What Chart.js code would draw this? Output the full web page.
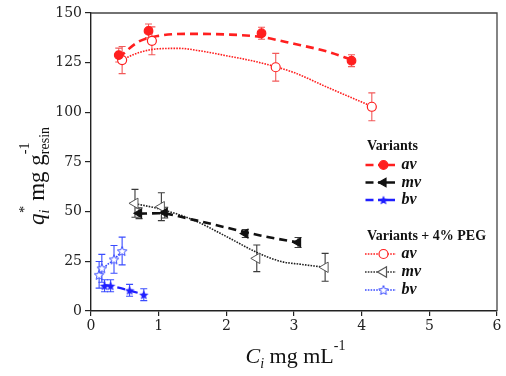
<!DOCTYPE html>
<html>
<head>
<meta charset="utf-8">
<script src="https://cdn.jsdelivr.net/npm/chart.js@4/dist/chart.umd.min.js"></script>
<style>
  html, body { margin: 0; padding: 0; background: #fff; }
  canvas { display: block; }
</style>
</head>
<body>
<canvas id="chart" width="506" height="376"></canvas>
<script>
// Measured uptake q* (mg/g resin) against concentration C (mg/mL), with error
const avX = [0.41, 0.85, 2.52, 3.85];
const avY = [128.8, 141.0, 139.8, 126.0];
const avErr = [3.5, 3.5, 3.0, 3.0];

const mvX = [0.71, 1.09, 2.28, 3.06];
const mvY = [49.2, 49.5, 39.0, 34.5];
const mvErr = [2.7, 2.7, 2.0, 2.5];

const bvX = [0.20, 0.29, 0.57, 0.78];
const bvY = [12.7, 12.7, 10.4, 8.2];
const bvErr = [3.0, 3.0, 3.0, 3.0];

// Same variants with 4% PEG
const avPegX = [0.46, 0.90, 2.73, 4.15];
const avPegY = [126.3, 136.0, 122.7, 102.8];
const avPegErr = [6.8, 7.0, 7.0, 7.0];

const mvPegX = [0.65, 1.04, 2.45, 3.46];
const mvPegY = [54.2, 52.5, 26.5, 22.0];
const mvPegErr = [7.0, 7.0, 6.7, 7.0];

const bvPegX = [0.12, 0.16, 0.34, 0.46];
const bvPegY = [18.2, 21.5, 26.0, 30.2];
const bvPegErr = [6.7, 7.0, 7.0, 7.0];

// Fitted isotherm curves
const avFitX = [0.41, 0.70, 1.00, 1.50, 2.00, 2.50, 3.00, 3.50, 3.85];
const avFitY = [127.5, 135.5, 138.5, 139.5, 139.2, 138.0, 134.5, 130.5, 126.5];
const avPegFitX = [0.46, 0.70, 1.00, 1.30, 1.60, 2.00, 2.50, 3.00, 3.50, 4.15];
const avPegFitY = [126.5, 130.0, 132.0, 132.2, 131.0, 128.5, 125.0, 120.0, 112.5, 103.0];
const mvFitX = [0.71, 1.00, 1.50, 2.00, 2.50, 3.06];
const mvFitY = [49.0, 49.2, 46.0, 42.0, 38.0, 34.5];
const mvPegFitX = [0.65, 1.00, 1.50, 2.00, 2.45, 2.80, 3.10, 3.46];
const mvPegFitY = [54.0, 51.5, 46.0, 37.5, 29.5, 25.0, 23.5, 22.0];
const bvFitX = [0.20, 0.29, 0.57, 0.78];
const bvFitY = [13.0, 12.6, 10.3, 8.3];
const bvPegFitX = [0.12, 0.16, 0.34, 0.46];
const bvPegFitY = [18.0, 20.5, 26.0, 30.2];

// Axis ticks
const xTicks = [0, 1, 2, 3, 4, 5, 6];
const yTicks = [0, 25, 50, 75, 100, 125, 150];

const RED = '#ff1f1f';
const RED_ERR = '#f25a5a';
const BLACK = '#111111';
const BLACK_ERR = '#3a3a3a';
const BLUE = '#1f1fff';
const BLUE_ERR = '#3a4cff';

const pts = (xs, ys) => xs.map((x, i) => ({ x, y: ys[i] }));

function makeStar(size, color, filled) {
  const c = document.createElement('canvas');
  c.width = size; c.height = size;
  const g = c.getContext('2d');
  const cx = size / 2, cy = size / 2 + 0.5;
  const ro = size / 2 - 1, ri = ro * 0.45;
  g.beginPath();
  for (let k = 0; k < 10; k++) {
    const r = k % 2 ? ri : ro;
    const a = -Math.PI / 2 + k * Math.PI / 5;
    const px = cx + r * Math.cos(a), py = cy + r * Math.sin(a);
    k ? g.lineTo(px, py) : g.moveTo(px, py);
  }
  g.closePath();
  if (filled) {
    g.fillStyle = color; g.fill();
  } else {
    g.fillStyle = '#fff'; g.fill();
    g.strokeStyle = color; g.lineWidth = 1; g.stroke();
  }
  return c;
}
const starFilled = makeStar(12, BLUE, true);
const starOpen = makeStar(12, BLUE_ERR, false);

const DASH = [8, 5];
const DOT = [1.6, 1.2];

function fitLine(xs, ys, color, dash, width) {
  return {
    data: pts(xs, ys), showLine: true, borderColor: color, borderWidth: width,
    borderDash: dash, pointRadius: 0, fill: false,
    cubicInterpolationMode: 'monotone', order: 2
  };
}
function markers(xs, ys, errs, opts) {
  return Object.assign({
    data: pts(xs, ys), showLine: false, errors: errs, order: 0,
    pointBorderWidth: 1.2, pointHoverRadius: 0
  }, opts);
}

const datasets = [
  fitLine(avFitX, avFitY, RED, DASH, 2.6),
  fitLine(avPegFitX, avPegFitY, RED, DOT, 1.6),
  fitLine(mvFitX, mvFitY, BLACK, DASH, 2.6),
  fitLine(mvPegFitX, mvPegFitY, '#222', DOT, 1.6),
  fitLine(bvFitX, bvFitY, BLUE, DASH, 2.2),
  fitLine(bvPegFitX, bvPegFitY, BLUE_ERR, DOT, 1.6),
  markers(avX, avY, avErr, { pointStyle: 'circle', pointRadius: 4.3, pointBackgroundColor: RED, pointBorderColor: RED, errColor: RED_ERR }),
  markers(avPegX, avPegY, avPegErr, { pointStyle: 'circle', pointRadius: 4.5, pointBackgroundColor: '#fff', pointBorderColor: RED, errColor: RED_ERR }),
  markers(mvX, mvY, mvErr, { pointStyle: 'triangle', pointRotation: 270, pointRadius: 5, pointBackgroundColor: BLACK, pointBorderColor: BLACK, errColor: BLACK_ERR }),
  markers(mvPegX, mvPegY, mvPegErr, { pointStyle: 'triangle', pointRotation: 270, pointRadius: 6, pointBackgroundColor: '#fff', pointBorderColor: '#555', pointBorderWidth: 1, errColor: BLACK_ERR }),
  markers(bvX, bvY, bvErr, { pointStyle: starFilled, errColor: BLUE_ERR }),
  markers(bvPegX, bvPegY, bvPegErr, { pointStyle: starOpen, errColor: BLUE_ERR })
];

// Vertical error bars with caps, drawn under the markers
const errorBars = {
  id: 'errorBars',
  beforeDatasetsDraw(chart) {
    const { ctx, scales: { x, y } } = chart;
    ctx.save();
    chart.data.datasets.forEach(ds => {
      if (!ds.errors) return;
      ctx.strokeStyle = ds.errColor; ctx.lineWidth = 1.1;
      ds.data.forEach((p, i) => {
        const px = x.getPixelForValue(p.x);
        const top = y.getPixelForValue(p.y + ds.errors[i]);
        const bot = y.getPixelForValue(p.y - ds.errors[i]);
        ctx.beginPath();
        ctx.moveTo(px, top); ctx.lineTo(px, bot);
        ctx.moveTo(px - 3.5, top); ctx.lineTo(px + 3.5, top);
        ctx.moveTo(px - 3.5, bot); ctx.lineTo(px + 3.5, bot);
        ctx.stroke();
      });
    });
    ctx.restore();
  }
};

// Frame, axis titles and grouped legend
const SERIF = '"Liberation Serif", "Times New Roman", serif';
function drawRich(ctx, parts, u0, supOff, subOff) {
  let u = u0;
  parts.forEach(p => {
    if (p.stack) {
      ctx.font = p.stack.font;
      const w1 = ctx.measureText(p.stack.sub).width;
      const w2 = ctx.measureText(p.stack.sup).width;
      ctx.fillText(p.stack.sub, u, subOff);
      ctx.fillText(p.stack.sup, u, supOff);
      u += Math.max(w1, w2);
    } else {
      ctx.font = p.font;
      ctx.fillText(p.t, u, p.sup ? supOff : 0);
      u += ctx.measureText(p.t).width;
    }
  });
}
function richWidth(ctx, parts) {
  let w = 0;
  parts.forEach(p => {
    if (p.stack) {
      ctx.font = p.stack.font;
      w += Math.max(ctx.measureText(p.stack.sub).width, ctx.measureText(p.stack.sup).width);
    } else {
      ctx.font = p.font;
      w += ctx.measureText(p.t).width;
    }
  });
  return w;
}

const legendGroups = [
  { title: 'Variants', titleY: 146, rows: [
    { y: 165, label: 'av', color: RED, dash: 'dash', marker: { pointStyle: 'circle', radius: 4.3, fill: RED, stroke: RED } },
    { y: 182.5, label: 'mv', color: BLACK, dash: 'dash', marker: { pointStyle: 'triangle', rotation: 270, radius: 5, fill: BLACK, stroke: BLACK } },
    { y: 200, label: 'bv', color: BLUE, dash: 'dash', marker: { pointStyle: starFilled } }
  ]},
  { title: 'Variants + 4% PEG', titleY: 236.5, rows: [
    { y: 254, label: 'av', color: RED, dash: 'dot', marker: { pointStyle: 'circle', radius: 4.5, fill: '#fff', stroke: RED } },
    { y: 272, label: 'mv', color: '#333', dash: 'dot', marker: { pointStyle: 'triangle', rotation: 270, radius: 6, fill: '#fff', stroke: '#555' } },
    { y: 290, label: 'bv', color: BLUE_ERR, dash: 'dot', marker: { pointStyle: starOpen } }
  ]}
];

const decorations = {
  id: 'decorations',
  afterDraw(chart) {
    const { ctx, chartArea: a } = chart;
    ctx.save();
    // top and right frame lines
    ctx.strokeStyle = '#444'; ctx.lineWidth = 1.3;
    ctx.beginPath();
    ctx.moveTo(a.left, a.top); ctx.lineTo(a.right, a.top); ctx.lineTo(a.right, a.bottom);
    ctx.stroke();

    ctx.fillStyle = '#111';
    ctx.textAlign = 'left'; ctx.textBaseline = 'alphabetic';

    // x title: C_i mg mL^-1
    const xParts = [
      { t: 'C', font: 'italic 22px ' + SERIF },
      { stack: { sub: 'i', sup: '', font: 'italic 14px ' + SERIF } },
      { t: ' mg mL', font: '22px ' + SERIF },
      { t: '-1', font: '14px ' + SERIF, sup: true }
    ];
    const xw = richWidth(ctx, xParts);
    ctx.save();
    ctx.translate((a.left + a.right) / 2 + 1.5, 362.5);
    drawRich(ctx, xParts, -xw / 2, -12.5, 5);
    ctx.restore();

    // y title: q_i^* mg g_resin^-1
    const yParts = [
      { t: 'q', font: 'italic 23px ' + SERIF },
      { stack: { sub: 'i', sup: '*', font: 'italic 14px ' + SERIF } },
      { t: ' mg g', font: '23px ' + SERIF },
      { stack: { sub: 'resin', sup: '-1', font: '14px ' + SERIF } }
    ];
    const yw = richWidth(ctx, yParts);
    ctx.save();
    ctx.translate(44, 176);
    ctx.rotate(-Math.PI / 2);
    drawRich(ctx, yParts, -yw / 2, -15, 5);
    ctx.restore();

    // legend
    legendGroups.forEach(g => {
      ctx.fillStyle = '#111';
      ctx.font = 'bold 14px ' + SERIF;
      ctx.textBaseline = 'middle';
      ctx.fillText(g.title, 367, g.titleY);
      g.rows.forEach(r => {
        ctx.strokeStyle = r.color;
        if (r.dash === 'dash') {
          ctx.lineWidth = 2.4; ctx.setLineDash([]);
          ctx.beginPath();
          ctx.moveTo(365.5, r.y); ctx.lineTo(373.5, r.y);
          ctx.moveTo(378, r.y); ctx.lineTo(395, r.y);
          ctx.stroke();
        } else {
          ctx.lineWidth = 1.6; ctx.setLineDash(DOT);
          ctx.beginPath();
          ctx.moveTo(365, r.y); ctx.lineTo(396, r.y);
          ctx.stroke();
          ctx.setLineDash([]);
        }
        const m = r.marker;
        ctx.fillStyle = m.fill || '#fff';
        ctx.strokeStyle = m.stroke || r.color;
        ctx.lineWidth = 1.2;
        Chart.helpers.drawPoint(ctx, {
          pointStyle: m.pointStyle, rotation: m.rotation || 0,
          radius: m.radius || 5, borderWidth: 1.2
        }, 383.5, r.y);
        ctx.fillStyle = '#111';
        ctx.font = 'italic bold 16px ' + SERIF;
        ctx.fillText(r.label, 401.5, r.y);
      });
    });
    ctx.restore();
  }
};

const TICK_FONT = { family: '"DejaVu Serif", serif', size: 14 };

new Chart(document.getElementById('chart'), {
  type: 'scatter',
  data: { datasets },
  options: {
    responsive: false,
    animation: false,
    devicePixelRatio: 1,
    layout: { padding: { top: 13, right: 9, left: 0, bottom: 0 } },
    plugins: { legend: { display: false }, tooltip: { enabled: false } },
    scales: {
      x: {
        type: 'linear', min: xTicks[0], max: xTicks[xTicks.length - 1],
        afterFit(s) { s.height = 65; },
        afterBuildTicks(s) { s.ticks = xTicks.map(v => ({ value: v })); },
        grid: { display: true, drawOnChartArea: false, drawTicks: true, tickLength: 5, color: '#222', lineWidth: 1.2 },
        border: { display: true, color: '#222', width: 1.4 },
        ticks: { font: TICK_FONT, color: '#222', padding: 2, maxRotation: 0 }
      },
      y: {
        type: 'linear', min: yTicks[0], max: yTicks[yTicks.length - 1],
        afterFit(s) { s.width = 91; },
        afterBuildTicks(s) { s.ticks = yTicks.map(v => ({ value: v })); },
        grid: { display: true, drawOnChartArea: false, drawTicks: true, tickLength: 6, color: '#222', lineWidth: 1.2 },
        border: { display: true, color: '#222', width: 1.4 },
        ticks: { font: TICK_FONT, color: '#222', padding: 3 }
      }
    }
  },
  plugins: [errorBars, decorations]
});
</script>
</body>
</html>
